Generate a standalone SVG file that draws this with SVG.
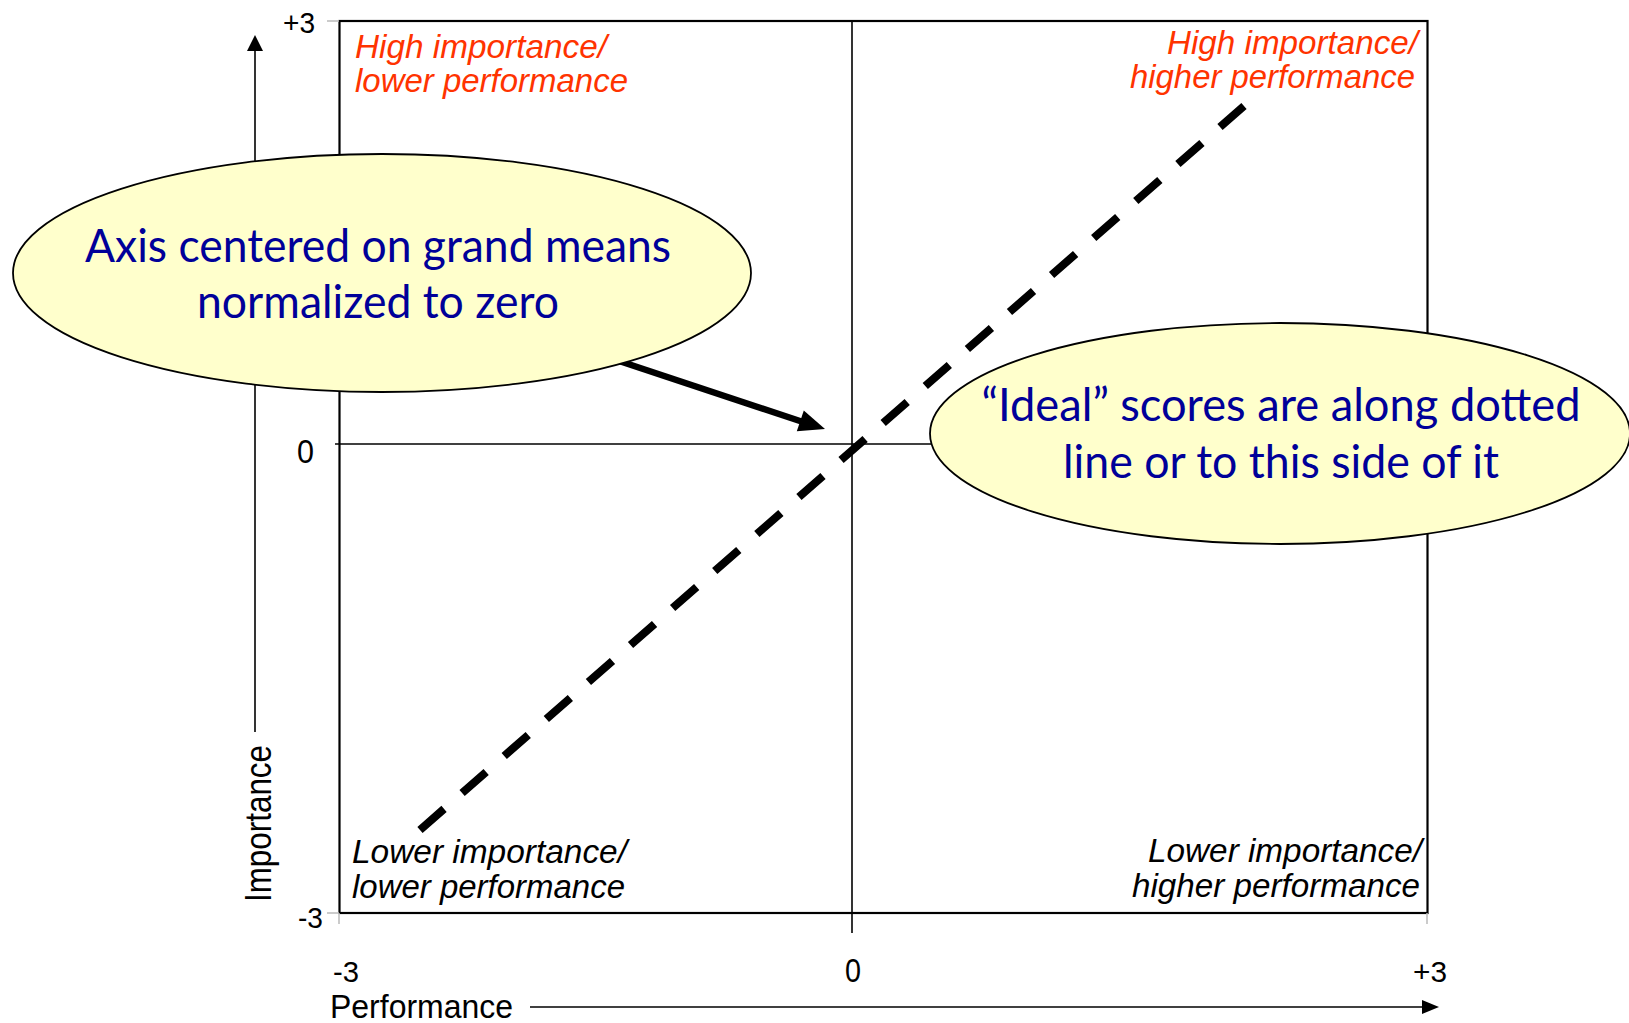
<svg xmlns="http://www.w3.org/2000/svg" width="1629" height="1023" viewBox="0 0 1629 1023">
<style>
.narrow{font-family:"Liberation Sans Narrow","Liberation Sans",Arial,sans-serif}
.quad{font-style:italic;font-size:34px}
.red{fill:#FF3300;font-size:33px}
.blk{fill:#000000}
.tick{font-size:30px;fill:#000}
.bubble{fill:#FFFFCC;stroke:#000;stroke-width:1.8}
.btext{font-family:Lato,"Open Sans","Liberation Sans",sans-serif;font-size:46px;fill:#000099;text-anchor:middle}
.gray{stroke:#BBBBBB;stroke-width:1.5;fill:none}
</style>
<rect width="1629" height="1023" fill="#FFFFFF"/>
<g id="plot">
<rect x="339.5" y="21" width="1088" height="892" fill="none" stroke="#000" stroke-width="2.2"/>
<line x1="852" y1="21" x2="852" y2="933" stroke="#000" stroke-width="1.6"/>
<line x1="335" y1="444" x2="1428" y2="444" stroke="#000" stroke-width="1.6"/>
<path class="gray" d="M327 21H339M327 913H339M339 913V924M1427 913V924"/>
</g>
<g id="axes">
<line x1="255" y1="732" x2="255" y2="48" stroke="#000" stroke-width="1.6"/>
<polygon points="255,35 247,51 263,51" fill="#000"/>
<line x1="530" y1="1007" x2="1424" y2="1007" stroke="#000" stroke-width="1.6"/>
<polygon points="1439,1007 1422,1000 1422,1014" fill="#000"/>
<text class="narrow" x="0" y="0" font-size="37" transform="translate(271,902) rotate(-90)" textLength="157" lengthAdjust="spacingAndGlyphs">Importance</text>
<text class="narrow" x="330" y="1018" font-size="34" textLength="183" lengthAdjust="spacingAndGlyphs">Performance</text>
<text class="narrow tick" x="283" y="33" font-size="31" textLength="32" lengthAdjust="spacingAndGlyphs">+3</text>
<text x="297" y="463" font-family="Liberation Sans, sans-serif" font-size="34" textLength="17" lengthAdjust="spacingAndGlyphs">0</text>
<text class="narrow tick" x="298" y="928" font-size="29" textLength="25" lengthAdjust="spacingAndGlyphs">-3</text>
<text class="narrow tick" x="333" y="982" font-size="29" textLength="26" lengthAdjust="spacingAndGlyphs">-3</text>
<text x="845" y="982" font-family="Liberation Sans, sans-serif" font-size="34" textLength="16" lengthAdjust="spacingAndGlyphs">0</text>
<text class="narrow tick" x="1413" y="982" textLength="34" lengthAdjust="spacingAndGlyphs">+3</text>
</g>
<g id="quadrant-labels">
<text class="narrow quad red" x="355" y="58" textLength="252" lengthAdjust="spacingAndGlyphs">High importance/</text>
<text class="narrow quad red" x="355" y="92" textLength="273" lengthAdjust="spacingAndGlyphs">lower performance</text>
<text class="narrow quad red" x="1167" y="54" textLength="251" lengthAdjust="spacingAndGlyphs">High importance/</text>
<text class="narrow quad red" x="1130" y="88" textLength="285" lengthAdjust="spacingAndGlyphs">higher performance</text>
<text class="narrow quad blk" x="352" y="863" textLength="275" lengthAdjust="spacingAndGlyphs">Lower importance/</text>
<text class="narrow quad blk" x="352" y="898" textLength="273" lengthAdjust="spacingAndGlyphs">lower performance</text>
<text class="narrow quad blk" x="1148" y="862" textLength="274" lengthAdjust="spacingAndGlyphs">Lower importance/</text>
<text class="narrow quad blk" x="1132" y="897" textLength="288" lengthAdjust="spacingAndGlyphs">higher performance</text>
</g>
<g id="connectors">
<line x1="420" y1="830" x2="1244" y2="106" stroke="#000" stroke-width="8" stroke-dasharray="32 24.05" stroke-linecap="butt"/>
<line x1="580" y1="348" x2="803" y2="422" stroke="#000" stroke-width="6.5"/>
<polygon points="825,429 796.8,431.2 803.8,410.4" fill="#000"/>
</g>
<g id="bubble-axis">
<ellipse class="bubble" cx="382" cy="273" rx="369" ry="119"/>
<text class="btext" x="378" y="262" textLength="586" lengthAdjust="spacingAndGlyphs">Axis centered on grand means</text>
<text class="btext" x="378" y="318" textLength="362" lengthAdjust="spacingAndGlyphs">normalized to zero</text>
</g>
<g id="bubble-ideal">
<ellipse class="bubble" cx="1280" cy="433.5" rx="350" ry="110.5"/>
<text class="btext" x="1281" y="421" textLength="599" lengthAdjust="spacingAndGlyphs">“Ideal” scores are along dotted</text>
<text class="btext" x="1281" y="478" textLength="436" lengthAdjust="spacingAndGlyphs">line or to this side of it</text>
</g>
</svg>
